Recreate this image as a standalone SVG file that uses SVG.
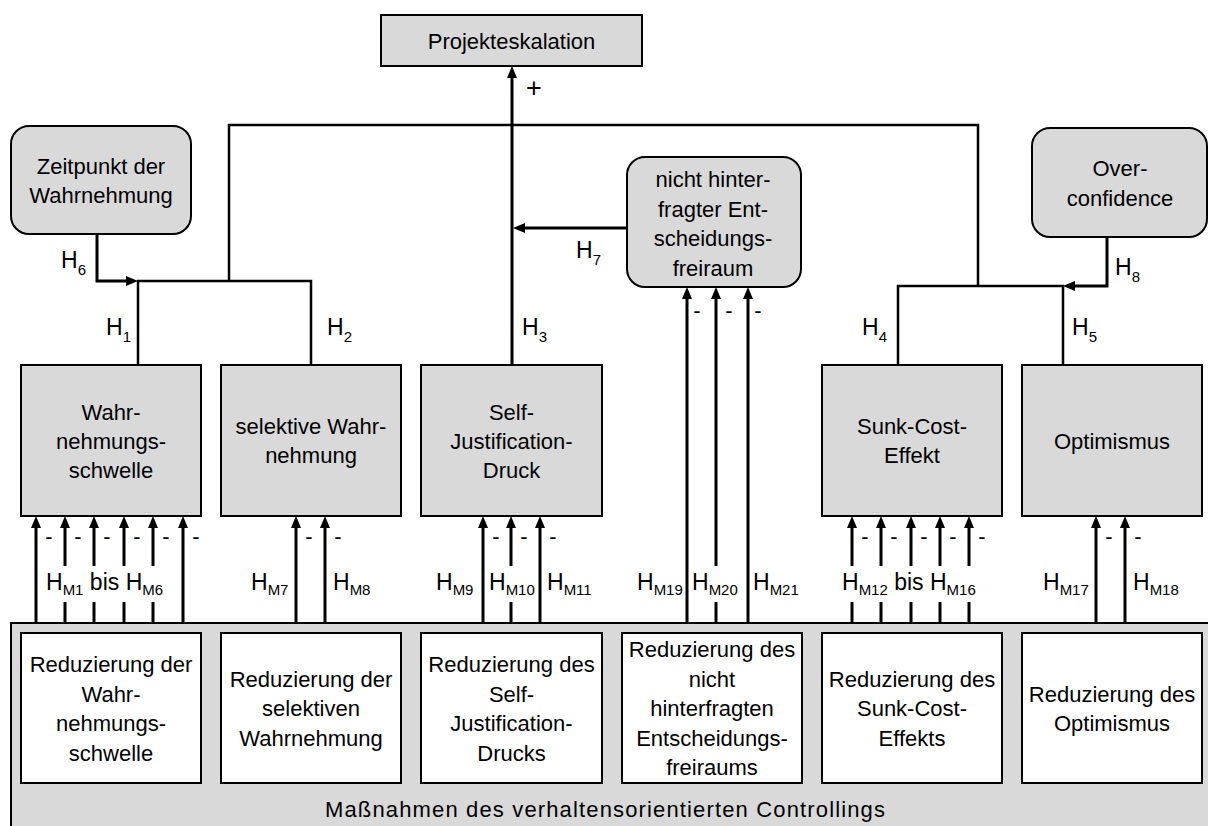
<svg xmlns="http://www.w3.org/2000/svg" width="1208" height="826" viewBox="0 0 1208 826">
<style>
.box{fill:#d9d9d9;stroke:#000;stroke-width:2}
.wbox{fill:#fff;stroke:#000;stroke-width:2}
.t{font-family:"Liberation Sans",Arial,sans-serif;font-size:22px;fill:#000;text-anchor:middle}
.l{font-family:"Liberation Sans",Arial,sans-serif;font-size:23px;fill:#000}
.s{font-size:15px}
.c{fill:none;stroke:#000;stroke-width:2.5}
.p{fill:none;stroke:#000;stroke-width:3}
.a{fill:none;stroke:#000;stroke-width:3;marker-end:url(#ah)}
</style>
<defs>
<marker id="ah" viewBox="0 0 12 10" refX="6" refY="5" markerWidth="12" markerHeight="10" markerUnits="userSpaceOnUse" orient="auto"><path d="M0,0 L12,5 L0,10 z" fill="#000"/></marker>
</defs>
<rect x="0" y="0" width="1208" height="826" fill="#fff"/>

<g id="controlling">
<rect class="box" x="11" y="623" width="1210" height="220"/>
<text class="t" x="605" y="817" textLength="560" lengthAdjust="spacing">Maßnahmen des verhaltensorientierten Controllings</text>
</g>

<g id="m1"><rect class="wbox" x="21" y="633" width="180" height="150"/>
<text class="t" x="111" y="672">Reduzierung der</text><text class="t" x="111" y="701.5">Wahr-</text><text class="t" x="111" y="731">nehmungs-</text><text class="t" x="111" y="760.5">schwelle</text></g>
<g id="m2"><rect class="wbox" x="221" y="633" width="180" height="150"/>
<text class="t" x="311" y="686.5">Reduzierung der</text><text class="t" x="311" y="716">selektiven</text><text class="t" x="311" y="745.5">Wahrnehmung</text></g>
<g id="m3"><rect class="wbox" x="421" y="633" width="181" height="150"/>
<text class="t" x="511.5" y="672">Reduzierung des</text><text class="t" x="511.5" y="701.5">Self-</text><text class="t" x="511.5" y="731">Justification-</text><text class="t" x="511.5" y="760.5">Drucks</text></g>
<g id="m4"><rect class="wbox" x="622" y="633" width="180" height="150"/>
<text class="t" x="712" y="657">Reduzierung des</text><text class="t" x="712" y="686.5">nicht</text><text class="t" x="712" y="716">hinterfragten</text><text class="t" x="712" y="745.5">Entscheidungs-</text><text class="t" x="712" y="775">freiraums</text></g>
<g id="m5"><rect class="wbox" x="822" y="633" width="180" height="150"/>
<text class="t" x="912" y="686.5">Reduzierung des</text><text class="t" x="912" y="716">Sunk-Cost-</text><text class="t" x="912" y="745.5">Effekts</text></g>
<g id="m6"><rect class="wbox" x="1022" y="633" width="180" height="150"/>
<text class="t" x="1112" y="701.5">Reduzierung des</text><text class="t" x="1112" y="731">Optimismus</text></g>

<g id="projekteskalation"><rect class="box" x="381" y="15" width="261" height="51"/>
<text class="t" x="511.5" y="49">Projekteskalation</text></g>
<g id="zeitpunkt"><rect class="box" x="11" y="126" width="180" height="108" rx="18"/>
<text class="t" x="101" y="174">Zeitpunkt der</text><text class="t" x="101" y="203">Wahrnehmung</text></g>
<g id="entscheidungsfreiraum"><rect class="box" x="627" y="157" width="174" height="130" rx="18"/>
<text class="t" x="713" y="187">nicht hinter-</text><text class="t" x="713" y="216.5">fragter Ent-</text><text class="t" x="713" y="246">scheidungs-</text><text class="t" x="713" y="275.5">freiraum</text></g>
<g id="overconfidence"><rect class="box" x="1032" y="128" width="175" height="109" rx="18"/>
<text class="t" x="1120" y="176">Over-</text><text class="t" x="1120" y="205.5">confidence</text></g>

<g id="wahrnehmungsschwelle"><rect class="box" x="21" y="365" width="180" height="151"/>
<text class="t" x="111" y="419.5">Wahr-</text><text class="t" x="111" y="448.5">nehmungs-</text><text class="t" x="111" y="477.5">schwelle</text></g>
<g id="selektive"><rect class="box" x="221" y="365" width="180" height="151"/>
<text class="t" x="311" y="434">selektive Wahr-</text><text class="t" x="311" y="463">nehmung</text></g>
<g id="selfjustification"><rect class="box" x="421" y="365" width="181" height="151"/>
<text class="t" x="511.5" y="419.5">Self-</text><text class="t" x="511.5" y="448.5">Justification-</text><text class="t" x="511.5" y="477.5">Druck</text></g>
<g id="sunkcost"><rect class="box" x="822" y="365" width="180" height="151"/>
<text class="t" x="912" y="434">Sunk-Cost-</text><text class="t" x="912" y="463">Effekt</text></g>
<g id="optimismus"><rect class="box" x="1022" y="365" width="180" height="151"/>
<text class="t" x="1112" y="449">Optimismus</text></g>

<g id="connectors">
<path class="c" d="M138,365 V281 H311 V365"/>
<path class="c" d="M229,281 V125 H978 V286"/>
<path class="c" d="M898,365 V286 H1063 V365"/>
<path class="a" d="M512,365 V72"/>
<path class="a" d="M97,234 V281 H132"/>
<path class="a" d="M1107,237 V286 H1069"/>
<path class="a" d="M627,228 H519"/>
<path class="a" d="M36,623 V522"/>
<path class="p" d="M65,623 V602"/><path class="a" d="M65,566 V522"/>
<path class="p" d="M94,623 V602"/><path class="a" d="M94,566 V522"/>
<path class="p" d="M124,623 V602"/><path class="a" d="M124,566 V522"/>
<path class="p" d="M153,623 V602"/><path class="a" d="M153,566 V522"/>
<path class="a" d="M183,623 V522"/>
<path class="a" d="M296,623 V522"/>
<path class="a" d="M325,623 V522"/>
<path class="a" d="M483,623 V522"/>
<path class="p" d="M511,623 V602"/><path class="a" d="M511,566 V522"/>
<path class="a" d="M540,623 V522"/>
<path class="a" d="M687,623 V293"/>
<path class="p" d="M716,623 V602"/><path class="a" d="M716,566 V293"/>
<path class="a" d="M748,623 V293"/>
<path class="p" d="M852,623 V602"/><path class="a" d="M852,566 V522"/>
<path class="p" d="M881,623 V602"/><path class="a" d="M881,566 V522"/>
<path class="p" d="M911,623 V602"/><path class="a" d="M911,566 V522"/>
<path class="p" d="M940,623 V602"/><path class="a" d="M940,566 V522"/>
<path class="p" d="M969,623 V602"/><path class="a" d="M969,566 V522"/>
<path class="a" d="M1096,623 V522"/>
<path class="a" d="M1125,623 V522"/>
</g>

<g id="labels">
<text class="t" x="534" y="97" style="font-size:27px">+</text>
<text class="l" x="61" y="268">H<tspan class="s" dy="7">6</tspan></text>
<text class="l" x="106" y="335">H<tspan class="s" dy="7">1</tspan></text>
<text class="l" x="327" y="335">H<tspan class="s" dy="7">2</tspan></text>
<text class="l" x="522" y="335">H<tspan class="s" dy="7">3</tspan></text>
<text class="l" x="862" y="335">H<tspan class="s" dy="7">4</tspan></text>
<text class="l" x="1072" y="335">H<tspan class="s" dy="7">5</tspan></text>
<text class="l" x="576" y="258">H<tspan class="s" dy="7">7</tspan></text>
<text class="l" x="1115" y="275">H<tspan class="s" dy="7">8</tspan></text>

<text class="l" x="46" y="590">H<tspan class="s" dy="5">M1</tspan><tspan dy="-5"> bis H</tspan><tspan class="s" dy="5">M6</tspan></text>
<text class="l" x="251" y="590">H<tspan class="s" dy="5">M7</tspan></text>
<text class="l" x="333" y="590">H<tspan class="s" dy="5">M8</tspan></text>
<text class="l" x="436" y="590">H<tspan class="s" dy="5">M9</tspan></text>
<text class="l" x="489" y="590">H<tspan class="s" dy="5">M10</tspan></text>
<text class="l" x="547" y="590">H<tspan class="s" dy="5">M11</tspan></text>
<text class="l" x="637" y="590">H<tspan class="s" dy="5">M19</tspan></text>
<text class="l" x="692" y="590">H<tspan class="s" dy="5">M20</tspan></text>
<text class="l" x="753" y="590">H<tspan class="s" dy="5">M21</tspan></text>
<text class="l" x="842" y="590">H<tspan class="s" dy="5">M12</tspan><tspan dy="-5"> bis H</tspan><tspan class="s" dy="5">M16</tspan></text>
<text class="l" x="1043" y="590">H<tspan class="s" dy="5">M17</tspan></text>
<text class="l" x="1133" y="590">H<tspan class="s" dy="5">M18</tspan></text>

<g class="t">
<text x="49" y="544">-</text><text x="78" y="544">-</text><text x="107" y="544">-</text><text x="137" y="544">-</text><text x="166" y="544">-</text><text x="196" y="544">-</text>
<text x="309" y="544">-</text><text x="338" y="544">-</text>
<text x="496" y="544">-</text><text x="524" y="544">-</text><text x="553" y="544">-</text>
<text x="697" y="318">-</text><text x="729" y="318">-</text><text x="758" y="318">-</text>
<text x="865" y="544">-</text><text x="894" y="544">-</text><text x="924" y="544">-</text><text x="953" y="544">-</text><text x="982" y="544">-</text>
<text x="1109" y="544">-</text><text x="1138" y="544">-</text>
</g>
</g>
</svg>
